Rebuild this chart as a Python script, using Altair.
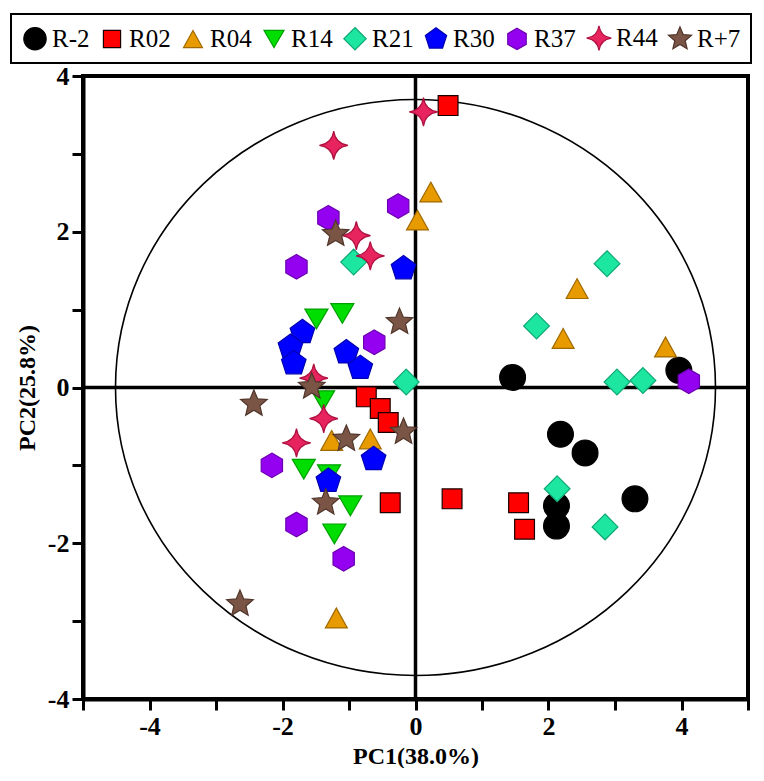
import altair as alt
import pandas as pd

groups = ["R-2", "R02", "R04", "R14", "R21", "R30", "R37", "R44", "R+7"]

r_m2_pc1 = [1.46, 3.96, 2.18, 2.55, 2.12, 2.12, 3.30]
r_m2_pc2 = [0.13, 0.22, -0.60, -0.84, -1.52, -1.78, -1.43]

r02_pc1 = [0.49, -0.74, -0.53, -0.41, -0.38, 0.55, 1.55, 1.64]
r02_pc2 = [3.62, -0.12, -0.27, -0.45, -1.48, -1.43, -1.48, -1.82]

r04_pc1 = [0.23, 0.03, 2.43, 2.22, 3.76, -1.26, -0.68, -1.19]
r04_pc2 = [2.51, 2.15, 1.27, 0.63, 0.52, -0.68, -0.66, -2.96]

r14_pc1 = [-1.49, -1.10, -1.39, -1.68, -1.30, -0.98, -1.22]
r14_pc2 = [0.88, 0.95, -0.17, -1.05, -1.12, -1.52, -1.88]

r21_pc1 = [-0.93, -0.14, 2.88, 1.82, 3.03, 3.42, 2.13, 2.85]
r21_pc2 = [1.61, 0.07, 1.59, 0.79, 0.07, 0.09, -1.30, -1.79]

r30_pc1 = [-0.18, -1.70, -1.88, -1.83, -1.04, -0.83, -0.63, -1.31]
r30_pc2 = [1.53, 0.71, 0.52, 0.31, 0.45, 0.25, -0.92, -1.20]

r37_pc1 = [-0.26, -1.31, -1.79, -0.62, -2.16, -1.79, -1.08, 4.11]
r37_pc2 = [2.33, 2.18, 1.55, 0.58, -1.00, -1.76, -2.20, 0.08]

r44_pc1 = [0.12, -1.23, -0.89, -0.68, -1.53, -1.38, -1.79]
r44_pc2 = [3.54, 3.11, 1.95, 1.69, 0.12, -0.40, -0.71]

rp7_pc1 = [-1.20, -0.24, -1.56, -2.43, -0.18, -1.04, -1.35, -2.64]
rp7_pc2 = [1.97, 0.84, 0.01, -0.21, -0.57, -0.66, -1.48, -2.78]

series = [
    (r_m2_pc1, r_m2_pc2), (r02_pc1, r02_pc2), (r04_pc1, r04_pc2),
    (r14_pc1, r14_pc2), (r21_pc1, r21_pc2), (r30_pc1, r30_pc2),
    (r37_pc1, r37_pc2), (r44_pc1, r44_pc2), (rp7_pc1, rp7_pc2),
]

rows = []
for g, (xs, ys) in zip(groups, series):
    for xv, yv in zip(xs, ys):
        rows.append({"group": g, "pc1": xv, "pc2": yv})
df = pd.DataFrame(rows)

fills = ["#000000", "#FF0000", "#E89B00", "#00DD00", "#1DE6A0",
         "#0000FF", "#9400F0", "#E8245E", "#7A5546"]
strokes = ["#000000", "#1A0000", "#A06A00", "#00A000", "#10A878",
           "#0000B0", "#6A00B0", "#B01040", "#50352A"]

circle_p = ("M0.86,0 C0.86,0.475 0.475,0.86 0,0.86 C-0.475,0.86 -0.86,0.475 -0.86,0 "
            "C-0.86,-0.475 -0.475,-0.86 0,-0.86 C0.475,-0.86 0.86,-0.475 0.86,0 Z")
square_p = "M-0.66,-0.66 L0.66,-0.66 L0.66,0.66 L-0.66,0.66 Z"
tri_up_p = "M0,-0.66 L0.73,0.66 L-0.73,0.66 Z"
tri_down_p = "M-0.77,-0.66 L0.77,-0.66 L0,0.66 Z"
diamond_p = "M0,-0.86 L0.86,0 L0,0.86 L-0.86,0 Z"
pentagon_p = "M0,-0.86 L0.818,-0.266 L0.506,0.696 L-0.506,0.696 L-0.818,-0.266 Z"
hexagon_p = "M0,-0.82 L0.71,-0.41 L0.71,0.41 L0,0.82 L-0.71,0.41 L-0.71,-0.41 Z"
star4_p = ("M0,-0.95 Q0.12,-0.12 0.95,0 Q0.12,0.12 0,0.95 "
           "Q-0.12,0.12 -0.95,0 Q-0.12,-0.12 0,-0.95 Z")
star5_p = ("M0,-0.93 L0.247,-0.34 L0.884,-0.287 L0.399,0.13 L0.547,0.752 L0,0.42 "
           "L-0.547,0.752 L-0.399,0.13 L-0.884,-0.287 L-0.247,-0.34 Z")
shapes = [circle_p, square_p, tri_up_p, tri_down_p, diamond_p,
          pentagon_p, hexagon_p, star4_p, star5_p]

ellipse_p = ("M1,0 C1,0.53 0.552,0.96 0,0.96 C-0.552,0.96 -1,0.53 -1,0 "
             "C-1,-0.53 -0.552,-0.96 0,-0.96 C0.552,-0.96 1,-0.53 1,0 Z")

FONT = "Liberation Serif"
legend = alt.Legend(orient="none", legendX=-72, legendY=-62, direction="horizontal",
                    columns=9, title=None)

origin = pd.DataFrame({"c": [0]})

ellipse = alt.Chart(origin).mark_point(
    shape=ellipse_p, size=360000, filled=False, stroke="black",
    strokeWidth=1.6, opacity=1
).encode(x=alt.X(datum=0), y=alt.Y(datum=0))

vline = alt.Chart(origin).mark_rule(color="black", strokeWidth=3.5).encode(x=alt.X(datum=0))
hline = alt.Chart(origin).mark_rule(color="black", strokeWidth=3.5).encode(y=alt.Y(datum=0))

points = alt.Chart(df).mark_point(filled=True, size=900, opacity=1, strokeWidth=1.2).encode(
    x=alt.X("pc1:Q", scale=alt.Scale(domain=[-5, 5], nice=False),
            axis=alt.Axis(values=list(range(-5, 6)), title="PC1(38.0%)",
                          labelExpr="datum.value % 2 === 0 ? '' + datum.value : ''",
                          titlePadding=5)),
    y=alt.Y("pc2:Q", scale=alt.Scale(domain=[-4, 4], nice=False),
            axis=alt.Axis(values=list(range(-4, 5)), title="PC2(25.8%)",
                          labelExpr="datum.value % 2 === 0 ? '' + datum.value : ''",
                          titlePadding=8)),
    fill=alt.Fill("group:N", scale=alt.Scale(domain=groups, range=fills), legend=legend),
    stroke=alt.Stroke("group:N", scale=alt.Scale(domain=groups, range=strokes), legend=legend),
    shape=alt.Shape("group:N", scale=alt.Scale(domain=groups, range=shapes), legend=legend),
)

chart = alt.layer(ellipse, vline, hline, points).properties(
    width=665, height=623,
    padding={"left": 2, "top": 5, "right": 2, "bottom": 0},
).configure_view(
    stroke="black", strokeWidth=4
).configure_axis(
    grid=False, domainColor="black", domainWidth=4, tickColor="black",
    tickWidth=3, tickSize=11, labelFont=FONT, labelFontSize=26,
    labelFontWeight="bold", labelColor="black", labelPadding=3,
    titleFont=FONT, titleFontSize=24, titleFontWeight="bold", titleColor="black"
).configure_legend(
    strokeColor="black", strokeWidth=2, padding=10, labelFont=FONT,
    labelFontSize=25, labelColor="black", symbolSize=676, symbolStrokeWidth=1.2,
    columnPadding=8, labelOffset=3, symbolOpacity=1
)

chart.save("out.html", embed_options={"renderer": "svg", "actions": False})
